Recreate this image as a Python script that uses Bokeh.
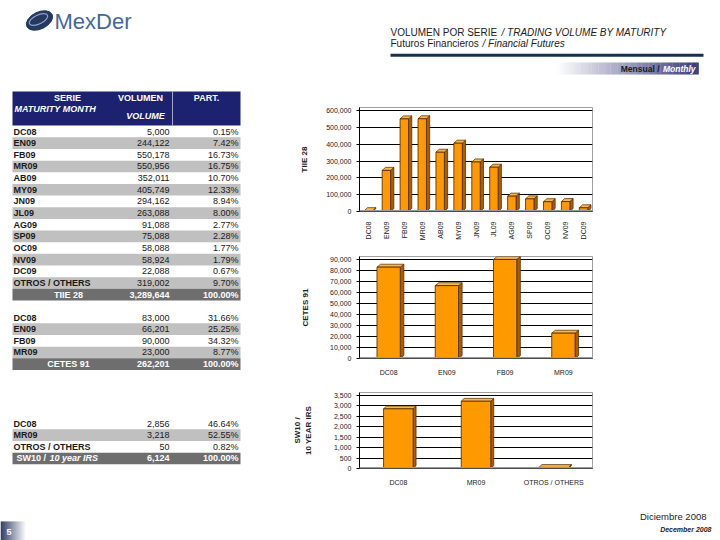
import math
import numpy as np
from bokeh.plotting import figure
from bokeh.models import Range1d, FixedTicker, NumeralTickFormatter, ColumnDataSource, Span
from bokeh.layouts import column, row
from bokeh.embed import file_html
from bokeh.resources import INLINE
from bokeh.core.properties import value

FONT = "Liberation Sans"

# ---------------- data ----------------
tiie_series = ["DC08", "EN09", "FB09", "MR09", "AB09", "MY09", "JN09", "JL09",
               "AG09", "SP09", "OC09", "NV09", "DC09", "OTROS / OTHERS"]
tiie_volume = [5000, 244122, 550178, 550956, 352011, 405749, 294162, 263088,
               91088, 75088, 58088, 58924, 22088, 319002]
tiie_share = ["0.15%", "7.42%", "16.73%", "16.75%", "10.70%", "12.33%", "8.94%", "8.00%",
              "2.77%", "2.28%", "1.77%", "1.79%", "0.67%", "9.70%"]
tiie_total = ["TIIE 28", "3,289,644", "100.00%"]

cetes_series = ["DC08", "EN09", "FB09", "MR09"]
cetes_volume = [83000, 66201, 90000, 23000]
cetes_share = ["31.66%", "25.25%", "34.32%", "8.77%"]
cetes_total = ["CETES 91", "262,201", "100.00%"]

sw10_series = ["DC08", "MR09", "OTROS / OTHERS"]
sw10_volume = [2856, 3218, 50]
sw10_share = ["46.64%", "52.55%", "0.82%"]
sw10_total = ["SW10 /", "6,124", "100.00%"]

chart1_cats = tiie_series[:13]
chart1_vals = tiie_volume[:13]
chart1_ticks = [0, 100000, 200000, 300000, 400000, 500000, 600000]
chart2_cats = cetes_series
chart2_vals = cetes_volume
chart2_ticks = [0, 10000, 20000, 30000, 40000, 50000, 60000, 70000, 80000, 90000]
chart3_cats = sw10_series
chart3_vals = sw10_volume
chart3_ticks = [0, 500, 1000, 1500, 2000, 2500, 3000, 3500]


def canvas(x0, x1, y0, y1):
    p = figure(width=x1 - x0, height=y1 - y0, output_backend="svg", toolbar_location=None,
               x_range=Range1d(x0, x1), y_range=Range1d(y1, y0),
               min_border=0, min_border_left=0, min_border_right=0,
               min_border_top=0, min_border_bottom=0)
    p.axis.visible = False
    p.grid.visible = False
    p.outline_line_color = None
    p.background_fill_color = "white"
    p.border_fill_color = "white"
    return p


def txt(p, x, y, s, size="9px", style="normal", color="#1a1a1a", align="left"):
    p.text(x=[x], y=[y], text=[s], text_font=value(FONT), text_font_size=size,
           text_font_style=style, text_color=color, text_align=align,
           text_baseline="middle")


def gradient(p, x0, x1, y0, y1, c0, c1, n=60):
    c0 = np.array([int(c0[i:i + 2], 16) for i in (1, 3, 5)], dtype=float)
    c1 = np.array([int(c1[i:i + 2], 16) for i in (1, 3, 5)], dtype=float)
    edges = np.linspace(x0, x1, n + 1)
    cols = []
    for t in np.linspace(0, 1, n):
        c = c0 + (c1 - c0) * t
        cols.append("#%02x%02x%02x" % tuple(int(round(v)) for v in c))
    p.quad(left=edges[:-1], right=edges[1:] + 0.3, top=y0, bottom=y1,
           fill_color=cols, line_color=None)


# ---------------- header (page coords) ----------------
header = canvas(0, 720, 0, 88)
header.ellipse(x=[39], y=[20], width=28, height=17, angle=0.45,
               fill_color="#24395f", line_color="#24395f")
header.ellipse(x=[38], y=[19], width=20, height=9, angle=0.45,
               fill_color=None, line_color="#8fa3c4", line_width=1.2)
txt(header, 54, 21, "MexDer", size="22px", color="#44689c")
txt(header, 390, 31.5, "VOLUMEN POR SERIE", size="10px", color="#222222")
txt(header, 501, 31.5, "/ TRADING VOLUME BY MATURITY", size="10px", style="italic", color="#222222")
txt(header, 390, 43.3, "Futuros Financieros", size="10px", color="#222222")
txt(header, 482, 43.3, "/ Financial Futures", size="10px", style="italic", color="#222222")
header.quad(left=[390], right=[703], top=[53.3], bottom=[56.2], fill_color="#17304f", line_color=None)
gradient(header, 555, 698, 62, 74, "#ffffff", "#3a3a7c")
txt(header, 659, 68.5, "Mensual /", size="8.5px", style="bold", color="#1a1a1a", align="right")
txt(header, 695, 68.5, "Monthly", size="8.5px", style="bold italic", color="white", align="right")

# ---------------- tables (page coords) ----------------
left = canvas(0, 290, 88, 488)
RH = 11.65
left.quad(left=[12], right=[240], top=[91], bottom=[125], fill_color="#1c2270", line_color=None)
left.segment(x0=[172], y0=[91], x1=[172], y1=[125], line_color="#c8c8e0", line_width=0.8)
txt(left, 67, 97, "SERIE", style="bold", color="white", align="center")
txt(left, 14, 108, "MATURITY MONTH", style="bold italic", color="white")
txt(left, 140, 97, "VOLUMEN", style="bold", color="white", align="center")
txt(left, 145, 115, "VOLUME", style="bold italic", color="white", align="center")
txt(left, 206, 97, "PART.", style="bold", color="white", align="center")


def table(p, y0, series, volume, share, gray_rows):
    n = len(series)
    ys = [y0 + RH * i for i in range(n)]
    gy = [ys[i] for i in gray_rows]
    p.quad(left=12, right=240, top=[y - RH / 2 for y in gy], bottom=[y + RH / 2 for y in gy],
           fill_color="#c0c0c0", line_color=None)
    src = ColumnDataSource(dict(y=ys, name=series, vol=["{:,}".format(v) for v in volume], share=share))
    common = dict(y="y", source=src, text_font=value(FONT), text_font_size="9px",
                  text_baseline="middle", text_color="#1a1a1a")
    p.text(x=13, text="name", text_align="left", text_font_style="bold", **common)
    p.text(x=169, text="vol", text_align="right", **common)
    p.text(x=238, text="share", text_align="right", **common)
    yt = y0 + RH * n
    p.quad(left=[12], right=[240], top=[yt - RH / 2], bottom=[yt + RH / 2],
           fill_color="#6e6e6e", line_color=None)
    return yt


yt = table(left, 131, tiie_series, tiie_volume, tiie_share, [1, 3, 5, 7, 9, 11, 13])
txt(left, 68, yt, tiie_total[0], style="bold", color="white", align="center")
txt(left, 169, yt, tiie_total[1], style="bold", color="white", align="right")
txt(left, 238, yt, tiie_total[2], style="bold", color="white", align="right")

yt = table(left, 317, cetes_series, cetes_volume, cetes_share, [1, 3])
txt(left, 68, yt, cetes_total[0], style="bold", color="white", align="center")
txt(left, 169, yt, cetes_total[1], style="bold", color="white", align="right")
txt(left, 238, yt, cetes_total[2], style="bold", color="white", align="right")

yt = table(left, 423, sw10_series, sw10_volume, sw10_share, [1])
txt(left, 16, yt, sw10_total[0], style="bold", color="white")
txt(left, 49, yt, "10 year IRS", style="bold italic", color="white")
txt(left, 169, yt, sw10_total[1], style="bold", color="white", align="right")
txt(left, 238, yt, sw10_total[2], style="bold", color="white", align="right")


# ---------------- charts ----------------
def chart(cats, vals, ticks, height, mb, label, bar_w, depth_px, vertical, standoff):
    n = len(cats)
    ymax = ticks[-1]
    W = 430
    head = 3  # wall space above the top tick, in px
    fw = W - mb[0] - mb[1]
    fh = height - mb[2] - mb[3]
    yend = ymax * (fh + head) / fh
    p = figure(width=W, height=height, output_backend="svg", toolbar_location=None,
               x_range=Range1d(-0.5, n - 0.5), y_range=Range1d(0, yend),
               min_border_left=mb[0], min_border_right=mb[1],
               min_border_top=mb[2] - head, min_border_bottom=mb[3])
    dx = depth_px[0] * n / fw
    dy = depth_px[1] * ymax / fh
    x = np.arange(n)
    v = np.array(vals, dtype=float)
    xl = x - bar_w / 2
    xr = x + bar_w / 2
    p.background_fill_color = "white"
    p.outline_line_color = "#a0a0a0"
    p.add_layout(Span(location=0, dimension="width", line_color="#9a9a9a", line_width=3))
    p.patches(xs=[[a, a + dx, a + dx, a] for a in xr],
              ys=[[0, dy, b + dy, b] for b in v],
              fill_color="#a85f00", line_color="#4a2500", line_width=0.7)
    p.patches(xs=[[a, a + dx, c + dx, c] for a, c in zip(xl, xr)],
              ys=[[b, b + dy, b + dy, b] for b in v],
              fill_color="#ffb640", line_color="#4a2500", line_width=0.7)
    p.quad(left=xl, right=xr, bottom=0, top=v, fill_color="#ff9900",
           line_color="#4a2500", line_width=0.8)
    p.xgrid.grid_line_color = None
    p.ygrid.ticker = FixedTicker(ticks=ticks)
    p.ygrid.grid_line_color = "black"
    p.ygrid.grid_line_width = 1
    ya = p.yaxis[0]
    ya.ticker = FixedTicker(ticks=ticks)
    ya.formatter = NumeralTickFormatter(format="0,0")
    ya.major_label_text_font = FONT
    ya.major_label_text_font_size = "7px"
    ya.major_label_text_color = "#222222"
    ya.minor_tick_line_color = None
    ya.major_tick_out = 3
    ya.major_tick_in = 0
    ya.axis_label = label
    ya.axis_label_text_font = FONT
    ya.axis_label_text_font_size = "8px"
    ya.axis_label_text_font_style = "bold"
    ya.axis_label_text_color = "#222222"
    ya.axis_label_standoff = standoff
    xa = p.xaxis[0]
    xa.ticker = FixedTicker(ticks=list(range(n)))
    xa.major_label_overrides = {i: c for i, c in enumerate(cats)}
    xa.major_label_text_font = FONT
    xa.major_label_text_font_size = "7px"
    xa.major_label_text_color = "#222222"
    xa.major_tick_line_color = None
    xa.minor_tick_line_color = None
    xa.major_label_standoff = 4
    if vertical:
        xa.major_label_orientation = math.pi / 2
    return p


c1 = chart(chart1_cats, chart1_vals, chart1_ticks, 157, (63, 118, 22, 34), "TIIE 28", 0.47, (3.5, 3), True, 14)
c2 = chart(chart2_cats, chart2_vals, chart2_ticks, 133, (58, 113, 14, 18), "CETES 91", 0.4, (4, 3), False, 17)
c3 = chart(chart3_cats, chart3_vals, chart3_ticks, 110, (68, 128, 17, 16), "SW10 /\n10 YEAR IRS", 0.38, (3, 3), False, 18)

# ---------------- footer (page coords) ----------------
footer = canvas(0, 720, 488, 540)
txt(footer, 706, 516, "Diciembre 2008", size="9.5px", color="#222222", align="right")
txt(footer, 711, 529, "December 2008", size="7px", style="bold italic", color="#222222", align="right")
gradient(footer, 0, 26, 521, 540, "#1c2a55", "#ffffff", n=26)
txt(footer, 6, 531, "5", size="9px", style="bold", color="white")

layout = column(header, row(left, column(c1, c2, c3)), footer)
open("out.html", "w").write(file_html(layout, INLINE))
